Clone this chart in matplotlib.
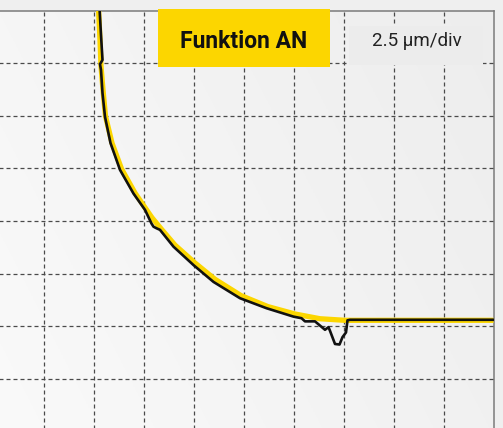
import numpy as np
import matplotlib
matplotlib.use("Agg")
import matplotlib.pyplot as plt
from matplotlib.patches import Rectangle

# Data in grid divisions (2.5 µm/div)
ref_x = [2.10, 2.13, 2.15, 2.19, 2.24, 2.37, 2.56, 2.83, 3.17, 3.37, 3.63, 4.03,
         4.43, 4.95, 5.49, 6.03, 6.53, 7.03, 10.0]
ref_y = [8.05, 7.44, 6.94, 6.49, 5.99, 5.48, 4.99, 4.53, 4.06, 3.83, 3.54, 3.20,
         2.89, 2.58, 2.37, 2.23, 2.14, 2.11, 2.11]

meas_x = [2.12, 2.15, 2.18, 2.13, 2.15, 2.18, 2.23, 2.34, 2.53, 2.80, 3.03, 3.16,
          3.20, 3.26, 3.33, 3.60, 4.00, 4.40, 4.93, 5.46, 6.00, 6.16, 6.23, 6.43,
          6.63, 6.70, 6.73, 6.83, 6.92, 6.98, 7.05, 7.08, 7.13, 10.0]
meas_y = [8.05, 7.53, 7.06, 6.98, 6.87, 6.43, 5.98, 5.48, 4.97, 4.52, 4.21, 3.95,
          3.89, 3.86, 3.83, 3.51, 3.16, 2.84, 2.53, 2.34, 2.18, 2.15, 2.09, 2.09,
          1.93, 1.98, 1.91, 1.66, 1.65, 1.79, 1.88, 2.11, 2.12, 2.12]

title = "Funktion AN"
scale_label = "2.5 µm/div"

W, H = 503, 428
fig = plt.figure(figsize=(W / 100, H / 100), dpi=100)
fig.patch.set_facecolor("#efefef")

ax = fig.add_axes([-6.5 / W, 1 - 431.3 / H, 500 / W, 420.8 / H])
ax.set_xlim(0, 10)
ax.set_ylim(0, 8)
ax.set_facecolor("#f4f4f4")

# subtle background gradient
gx = np.linspace(0, 1, 200)
gy = np.linspace(0, 1, 200)
GX, GY = np.meshgrid(gx, gy)
val = 0.98 - 0.05 * (0.7 * GX + 0.3 * GY)
img = np.dstack([val, val, val])
ax.imshow(img, extent=[0, 10, 0, 8], origin="lower", aspect="auto", zorder=0)

ax.set_xticks(np.arange(1, 10))
ax.set_yticks(np.arange(1, 8))
ax.tick_params(length=0, labelbottom=False, labelleft=False)
ax.grid(True, color="#4a4a4a", linewidth=0.9, linestyle=(0, (3.2, 2.4)), zorder=1)
ax.set_axisbelow(False)
for s in ax.spines.values():
    s.set_color("#7a7a7a")
    s.set_linewidth(1.1)

ax.plot(ref_x, ref_y, color="#FCD600", linewidth=3.8, solid_capstyle="butt",
        solid_joinstyle="round", zorder=4)
ax.plot(meas_x, meas_y, color="#111111", linewidth=1.9, solid_joinstyle="round",
        zorder=5)

# label boxes
ax.add_patch(Rectangle((3.29, 6.93), 3.44, 1.09, facecolor="#FCD600",
                       edgecolor="none", zorder=6, clip_on=False))
ax.text(5.01, 7.29, title, ha="center", va="baseline", fontsize=16.5,
        fontweight="bold", family=["Roboto", "DejaVu Sans"], color="#111111",
        zorder=7)

ax.add_patch(Rectangle((7.10, 6.97), 2.68, 0.73, facecolor="#ececec",
                       edgecolor="none", zorder=6, clip_on=False))
ax.text(8.46, 7.325, scale_label, ha="center", va="baseline", fontsize=13.5,
        family=["Roboto", "DejaVu Sans"], color="#222222", zorder=7)

fig.savefig("out.png", dpi=100, facecolor=fig.get_facecolor())
